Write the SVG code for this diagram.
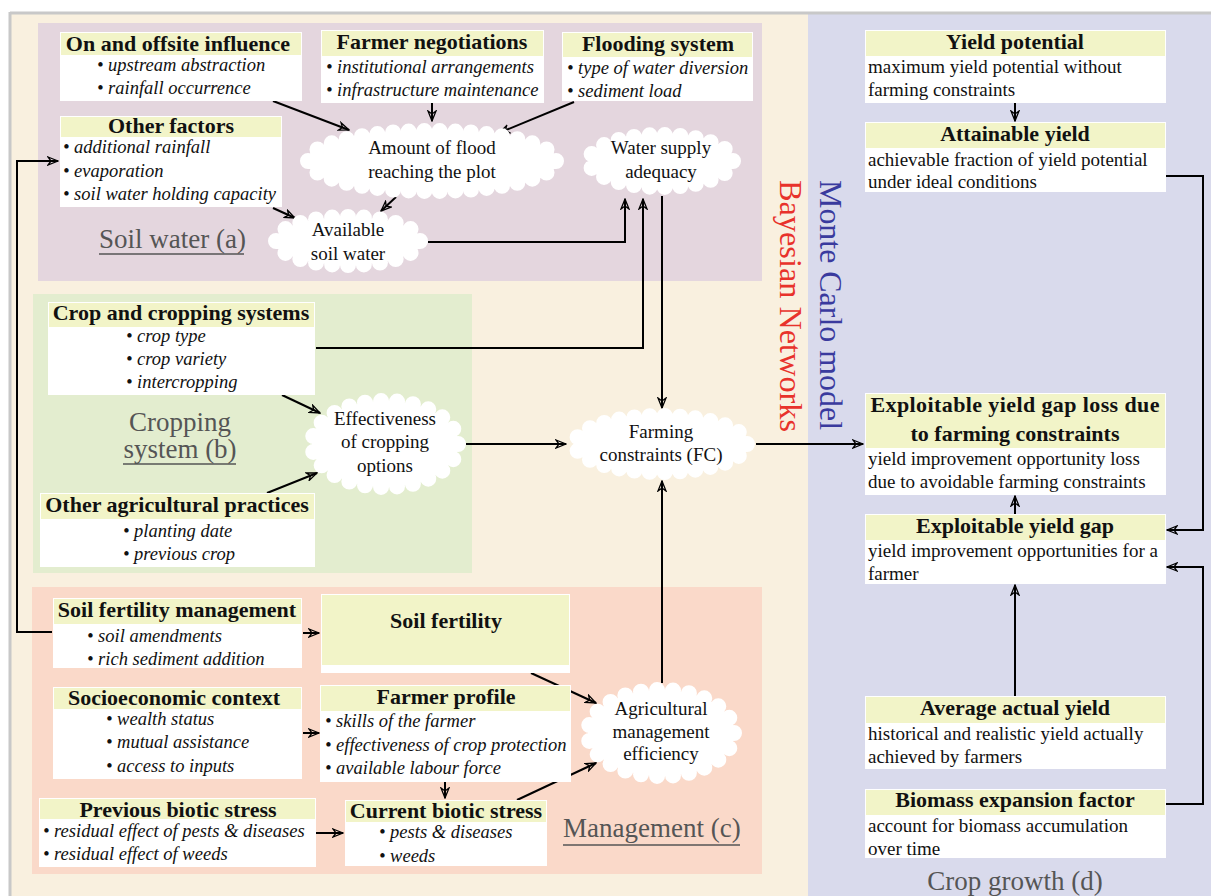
<svg xmlns="http://www.w3.org/2000/svg" width="1211" height="896" viewBox="0 0 1211 896">
<defs>
<style>
.box{fill:#fff}
.hdr{fill:#F2F4C8}
.t{font-family:"Liberation Serif","Times New Roman",serif;font-weight:bold;font-size:22px;fill:#111;text-anchor:middle}
.b{font-family:"Liberation Serif","Times New Roman",serif;font-style:italic;font-size:18.5px;fill:#111}
.d{font-family:"Liberation Serif","Times New Roman",serif;font-size:19px;fill:#111}
.c{font-family:"Liberation Serif","Times New Roman",serif;font-size:19px;fill:#111;text-anchor:middle}
.lbl{font-family:"Liberation Serif","Times New Roman",serif;font-size:27px;fill:#555}
.ul{stroke:#555;stroke-width:1.5}
.cloud{fill:#fff;stroke:#fff;stroke-width:16;stroke-linecap:round;stroke-dasharray:0 1}
.con{fill:none;stroke:#000;stroke-width:2;marker-end:url(#ah)}
</style>
<marker id="ah" markerUnits="userSpaceOnUse" markerWidth="12" markerHeight="10" viewBox="0 0 12 10" refX="11" refY="5" orient="auto">
<path d="M1,1 L11,5 L1,9 L4,5 Z" fill="none" stroke="#000" stroke-width="1.3" stroke-linejoin="miter"/>
</marker>
</defs>

<g id="background">
<rect x="0" y="0" width="1211" height="896" fill="#fff"/>
<rect x="10" y="13" width="800" height="883" fill="#F9F0DF"/>
<rect x="808" y="14" width="403" height="882" fill="#D9DAEC"/>
<line x1="10" y1="13" x2="1211" y2="13" stroke="#C8C8C8" stroke-width="3"/>
<line x1="10" y1="12" x2="10" y2="896" stroke="#C8C8C8" stroke-width="3"/>
<rect x="38" y="23" width="724" height="258" fill="#E4D6DE"/>
<rect x="33" y="294" width="439" height="279" fill="#E3EDCF"/>
<rect x="32" y="587" width="730" height="287" fill="#FAD9C9"/>
</g>

<g id="section-labels">
<text class="lbl" x="99" y="248">Soil water (a)</text>
<line class="ul" x1="99" y1="254" x2="244" y2="254"/>
<text class="lbl" text-anchor="middle" font-size="26"><tspan x="180" y="431">Cropping</tspan><tspan x="180" y="458">system (b)</tspan></text>
<line class="ul" x1="123" y1="464" x2="236" y2="464"/>
<text class="lbl" x="563" y="837">Management (c)</text>
<line class="ul" x1="563" y1="845" x2="740" y2="845"/>
<text class="lbl" x="1015" y="890" text-anchor="middle">Crop growth (d)</text>
<text transform="translate(780,180) rotate(90)" font-family="Liberation Serif, serif" font-size="32" fill="#E8322B" textLength="252" lengthAdjust="spacingAndGlyphs">Bayesian Networks</text>
<text transform="translate(820,180) rotate(90)" font-family="Liberation Serif, serif" font-size="32" fill="#3A3A9E" textLength="250" lengthAdjust="spacingAndGlyphs">Monte Carlo model</text>
</g>

<g id="connectors">
<path class="con" d="M273,101 L349,130"/>
<path class="con" d="M432,103 L432,121"/>
<path class="con" d="M574,102 L499,133"/>
<path class="con" d="M396,197 L381,211"/>
<path class="con" d="M273,208 L295,218"/>
<path class="con" d="M428,242 H625 V199"/>
<path class="con" d="M316,348 H643 V199"/>
<path class="con" d="M662,196 V408"/>
<path class="con" d="M466,444 H566"/>
<path class="con" d="M662,683 V481"/>
<path class="con" d="M756,444 H863"/>
<path class="con" d="M282,395 L320,413"/>
<path class="con" d="M267,493 L317,473"/>
<path class="con" d="M52,632 H17 V161 H58"/>
<path class="con" d="M303,633 H319"/>
<path class="con" d="M303,733 H319"/>
<path class="con" d="M445,782 V798"/>
<path class="con" d="M316,833 H343"/>
<path class="con" d="M531,673 L596,703"/>
<path class="con" d="M517,800 L596,763"/>
<path class="con" d="M1015,103 V121"/>
<path class="con" d="M1166,176 H1203 V530 H1167"/>
<path class="con" d="M1015,514 V496"/>
<path class="con" d="M1015,696 V585"/>
<path class="con" d="M1166,804 H1203 V567 H1167"/>
</g>

<g id="on-offsite">
<rect class="box" x="60" y="32" width="242" height="69"/>
<rect class="hdr" x="61" y="33" width="240" height="22"/>
<text class="t" x="178" y="51">On and offsite influence</text>
<text class="b" x="97" y="71">• upstream abstraction</text>
<text class="b" x="97" y="94">• rainfall occurrence</text>
</g>

<g id="farmer-negotiations">
<rect class="box" x="321" y="30" width="223" height="73"/>
<rect class="hdr" x="322" y="31" width="221" height="25"/>
<text class="t" x="432" y="49">Farmer negotiations</text>
<text class="b" x="326" y="73">• institutional arrangements</text>
<text class="b" x="326" y="96">• infrastructure maintenance</text>
</g>

<g id="flooding-system">
<rect class="box" x="562" y="32" width="191" height="69"/>
<rect class="hdr" x="563" y="33" width="189" height="24"/>
<text class="t" x="658" y="51">Flooding system</text>
<text class="b" x="567" y="74">• type of water diversion</text>
<text class="b" x="567" y="97">• sediment load</text>
</g>

<g id="other-factors">
<rect class="box" x="60" y="116" width="222" height="91"/>
<rect class="hdr" x="61" y="117" width="220" height="20"/>
<text class="t" x="171" y="133">Other factors</text>
<text class="b" x="63" y="153">• additional rainfall</text>
<text class="b" x="63" y="177">• evaporation</text>
<text class="b" x="63" y="200">• soil water holding capacity</text>
</g>

<g id="amount-of-flood">
<ellipse class="cloud" cx="432" cy="161" rx="124" ry="30" pathLength="34"/>
<text class="c" x="432" y="154">Amount of flood</text>
<text class="c" x="432" y="178">reaching the plot</text>
</g>

<g id="water-supply">
<ellipse class="cloud" cx="661" cy="161" rx="72" ry="26" pathLength="21"/>
<text class="c" x="661" y="154">Water supply</text>
<text class="c" x="661" y="178">adequacy</text>
</g>

<g id="available-soil-water">
<ellipse class="cloud" cx="348" cy="241" rx="72" ry="24" pathLength="20"/>
<text class="c" x="348" y="236">Available</text>
<text class="c" x="348" y="260">soil water</text>
</g>

<g id="crop-systems">
<rect class="box" x="48" y="302" width="267" height="93"/>
<rect class="hdr" x="49" y="303" width="265" height="24"/>
<text class="t" x="181" y="320">Crop and cropping systems</text>
<text class="b" x="126" y="342">• crop type</text>
<text class="b" x="126" y="365">• crop variety</text>
<text class="b" x="126" y="388">• intercropping</text>
</g>

<g id="other-practices">
<rect class="box" x="40" y="493" width="275" height="74"/>
<rect class="hdr" x="41" y="494" width="273" height="25"/>
<text class="t" x="177" y="512">Other agricultural practices</text>
<text class="b" x="123" y="537">• planting date</text>
<text class="b" x="123" y="560">• previous crop</text>
</g>

<g id="effectiveness">
<ellipse class="cloud" cx="385" cy="444" rx="73" ry="43" pathLength="23"/>
<text class="c" x="385" y="425">Effectiveness</text>
<text class="c" x="385" y="448">of cropping</text>
<text class="c" x="385" y="472">options</text>
</g>

<g id="farming-constraints">
<ellipse class="cloud" cx="661" cy="444" rx="86" ry="28" pathLength="25"/>
<text class="c" x="661" y="438">Farming</text>
<text class="c" x="661" y="461">constraints (FC)</text>
</g>

<g id="soil-fertility-management">
<rect class="box" x="53" y="598" width="249" height="70"/>
<rect class="hdr" x="54" y="599" width="247" height="25"/>
<text class="t" x="177" y="617">Soil fertility management</text>
<text class="b" x="87" y="642">• soil amendments</text>
<text class="b" x="87" y="665">• rich sediment addition</text>
</g>

<g id="soil-fertility">
<rect class="box" x="321" y="594" width="249" height="79"/>
<rect class="hdr" x="322" y="595" width="247" height="70"/>
<text class="t" x="446" y="628">Soil fertility</text>
</g>

<g id="socioeconomic">
<rect class="box" x="53" y="687" width="249" height="92"/>
<rect class="hdr" x="54" y="688" width="247" height="21"/>
<text class="t" x="174" y="705">Socioeconomic context</text>
<text class="b" x="106" y="725">• wealth status</text>
<text class="b" x="106" y="748">• mutual assistance</text>
<text class="b" x="106" y="772">• access to inputs</text>
</g>

<g id="farmer-profile">
<rect class="box" x="320" y="685" width="251" height="97"/>
<rect class="hdr" x="321" y="686" width="249" height="25"/>
<text class="t" x="446" y="704">Farmer profile</text>
<text class="b" x="325" y="727">• skills of the farmer</text>
<text class="b" x="325" y="751">• effectiveness of crop protection</text>
<text class="b" x="325" y="774">• available labour force</text>
</g>

<g id="previous-biotic">
<rect class="box" x="39" y="798" width="277" height="69"/>
<rect class="hdr" x="40" y="799" width="275" height="20"/>
<text class="t" x="178" y="817">Previous biotic stress</text>
<text class="b" x="43" y="837">• residual effect of pests &amp; diseases</text>
<text class="b" x="43" y="860">• residual effect of weeds</text>
</g>

<g id="current-biotic">
<rect class="box" x="345" y="800" width="202" height="66"/>
<rect class="hdr" x="346" y="801" width="200" height="21"/>
<text class="t" x="446" y="818">Current biotic stress</text>
<text class="b" x="379" y="838">• pests &amp; diseases</text>
<text class="b" x="379" y="862">• weeds</text>
</g>

<g id="agri-management">
<ellipse class="cloud" cx="661" cy="733" rx="73" ry="43" pathLength="23"/>
<text class="c" x="661" y="715">Agricultural</text>
<text class="c" x="661" y="738">management</text>
<text class="c" x="661" y="760">efficiency</text>
</g>

<g id="yield-potential">
<rect class="box" x="865" y="30" width="301" height="73"/>
<rect class="hdr" x="866" y="31" width="299" height="25"/>
<text class="t" x="1015" y="49">Yield potential</text>
<text class="d" x="868" y="73">maximum yield potential without</text>
<text class="d" x="868" y="96">farming constraints</text>
</g>

<g id="attainable-yield">
<rect class="box" x="865" y="122" width="301" height="70"/>
<rect class="hdr" x="866" y="123" width="299" height="25"/>
<text class="t" x="1015" y="141">Attainable yield</text>
<text class="d" x="868" y="166">achievable fraction of yield potential</text>
<text class="d" x="868" y="188">under ideal conditions</text>
</g>

<g id="exploitable-gap-loss">
<rect class="box" x="865" y="393" width="301" height="102"/>
<rect class="hdr" x="866" y="394" width="299" height="54"/>
<text class="t" x="1015" y="412" textLength="289" lengthAdjust="spacing">Exploitable yield gap loss due</text>
<text class="t" x="1015" y="441">to farming constraints</text>
<text class="d" x="868" y="465">yield improvement opportunity loss</text>
<text class="d" x="868" y="488">due to avoidable farming constraints</text>
</g>

<g id="exploitable-gap">
<rect class="box" x="865" y="514" width="301" height="70"/>
<rect class="hdr" x="866" y="515" width="299" height="25"/>
<text class="t" x="1015" y="533">Exploitable yield gap</text>
<text class="d" x="868" y="557" textLength="290" lengthAdjust="spacing">yield improvement opportunities for a</text>
<text class="d" x="868" y="580">farmer</text>
</g>

<g id="average-actual-yield">
<rect class="box" x="865" y="696" width="301" height="73"/>
<rect class="hdr" x="866" y="697" width="299" height="26"/>
<text class="t" x="1015" y="715">Average actual yield</text>
<text class="d" x="868" y="740">historical and realistic yield actually</text>
<text class="d" x="868" y="763">achieved by farmers</text>
</g>

<g id="biomass-expansion">
<rect class="box" x="865" y="789" width="301" height="69"/>
<rect class="hdr" x="866" y="790" width="299" height="25"/>
<text class="t" x="1015" y="807">Biomass expansion factor</text>
<text class="d" x="868" y="832">account for biomass accumulation</text>
<text class="d" x="868" y="855">over time</text>
</g>
</svg>
